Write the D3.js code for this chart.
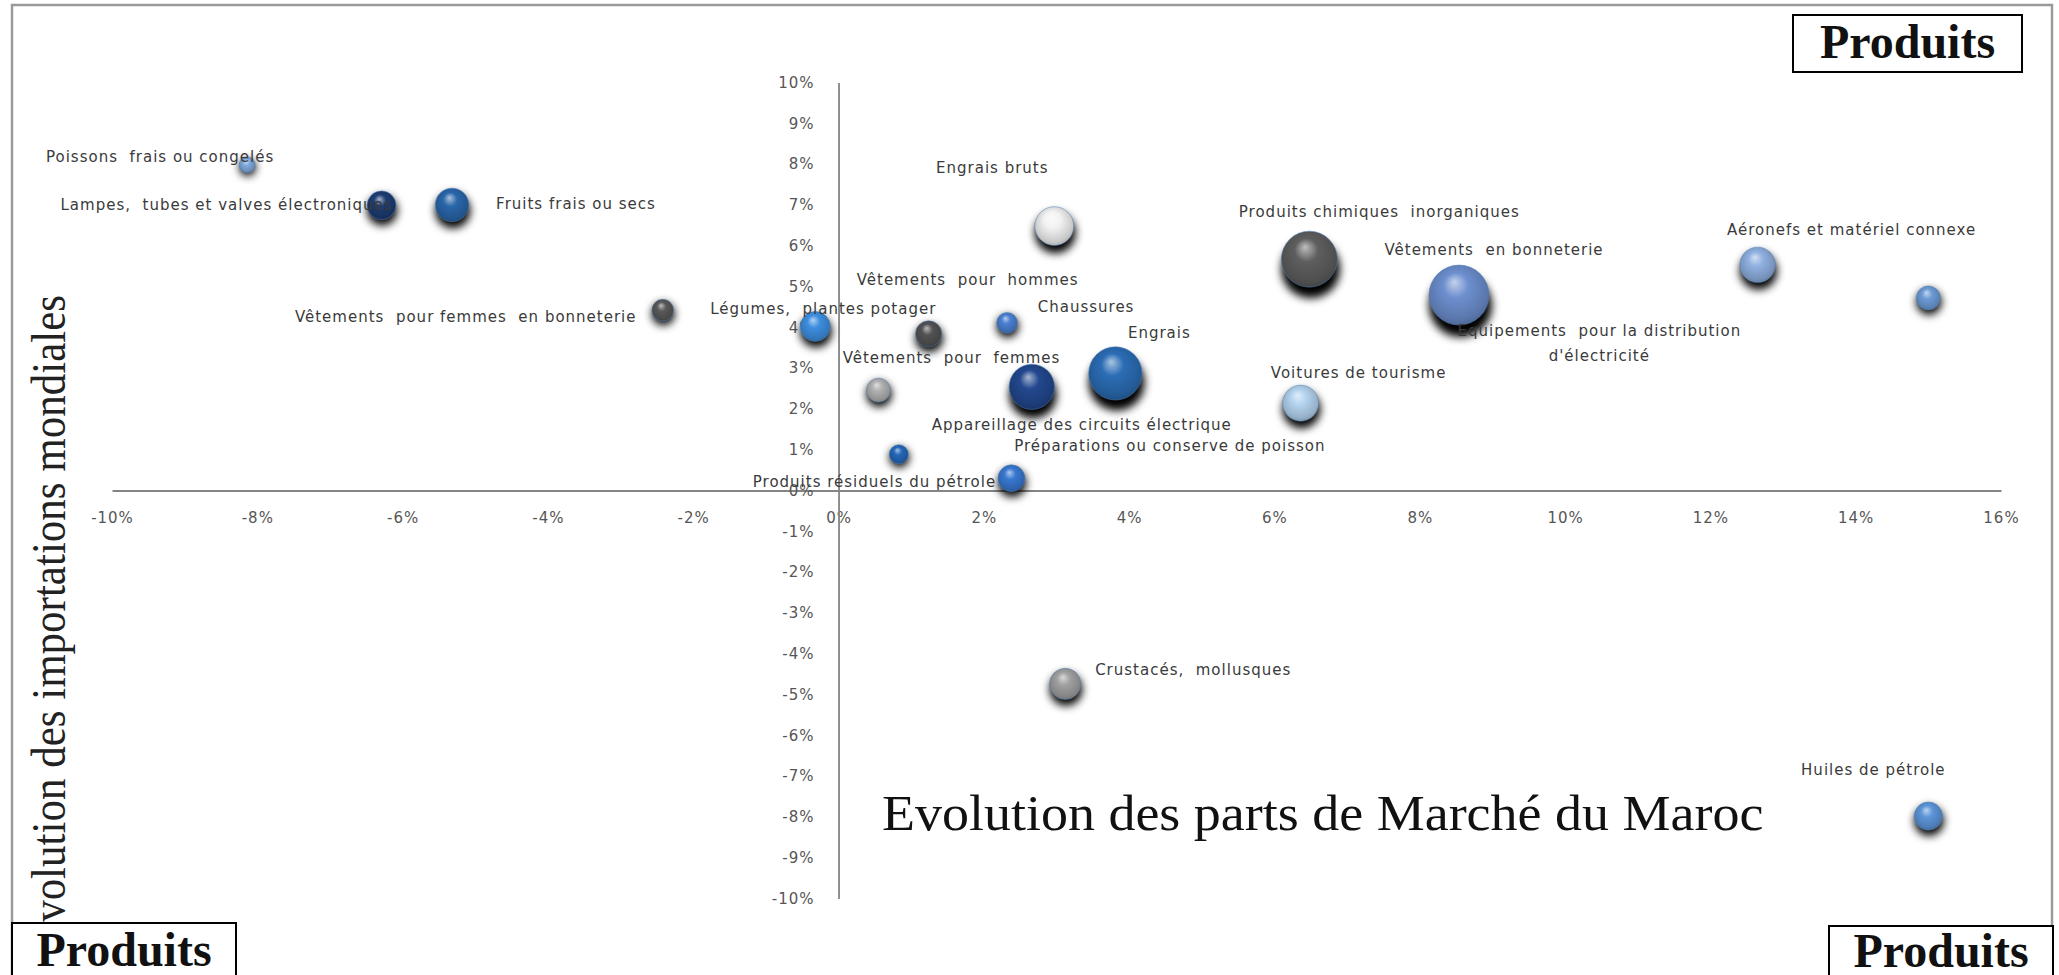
<!DOCTYPE html>
<html>
<head>
<meta charset="utf-8">
<script src="https://cdn.jsdelivr.net/npm/d3@7"></script>
<style>
body { margin: 0; background: #fff; }
svg { display: block; }
.lbl { font-family: "DejaVu Sans", sans-serif; font-size: 15px; fill: #3a3a3a; letter-spacing: 1px; white-space: pre; }
.axis text { font-family: "DejaVu Sans", sans-serif; font-size: 15px; fill: #565656; letter-spacing: 1px; }
.axis path { stroke: #858585; stroke-width: 1.8; }
.serif { font-family: "Liberation Serif", "Times New Roman", serif; fill: #111; }
</style>
</head>
<body>
<div id="chart"></div>
<script>
// produits et valeurs (en %)
var produits = [
    "Poissons  frais ou congelés",
    "Lampes,  tubes et valves électroniques",
    "Fruits frais ou secs",
    "Vêtements  pour femmes  en bonneterie",
    "Légumes,  plantes potager",
    "Vêtements  pour  hommes",
    "Chaussures",
    "Engrais bruts",
    "Vêtements  pour  femmes",
    "Appareillage des circuits électrique",
    "Engrais",
    "Préparations ou conserve de poisson",
    "Produits résiduels du pétrole",
    "Produits chimiques  inorganiques",
    "Vêtements  en bonneterie",
    "Aéronefs et matériel connexe",
    "Equipements  pour la distribution\nd'électricité",
    "Voitures de tourisme",
    "Crustacés,  mollusques",
    "Huiles de pétrole"
];
var partsMarche = [-8.14, -6.29, -5.32, -2.42, -0.32, 1.24, 2.32, 2.97, 0.55, 2.66,
                   3.81, 0.83, 2.38, 6.48, 8.54, 12.65, 15.0, 6.36, 3.12, 15.0];
var importsMondiales = [7.98, 6.99, 7.0, 4.42, 4.02, 3.84, 4.11, 6.48, 2.46, 2.54,
                        2.87, 0.89, 0.3, 5.67, 4.79, 5.53, 4.72, 2.14, -4.74, -7.98];
var tailles = [7, 23, 31, 13, 25, 19, 12, 42, 16, 57,
               79, 10, 20, 87, 100, 35, 16, 36, 27, 22];
var xTicks = [-10, -8, -6, -4, -2, 0, 2, 4, 6, 8, 10, 12, 14, 16];
var yTicks = [-10, -9, -8, -7, -6, -5, -4, -3, -2, -1, 0, 1, 2, 3, 4, 5, 6, 7, 8, 9, 10];

// style: couleur de chaque bulle
var couleurs = ["#7fa9dc", "#1d3c72", "#2a66aa", "#585858", "#3d8ee0", "#525252", "#4a7fd0", "#f2f2f2", "#b0b0b0", "#23488e",
                "#2b6db5", "#2467b8", "#3878d0", "#5e5e5e", "#6d8fcf", "#8fb0e0", "#6d9bd6", "#b4d3ef", "#a0a0a0", "#5c95d8"];
// placement des étiquettes (décalage en px depuis le centre de la bulle)
var decalages = [[-87, -8], [-155, -1], [124, -1], [-197, 7], [8, -18], [39, -54], [79, -16], [-62, -58], [73, -32], [50, 38],
                 [44, -41], [271, -8], [-137, 3], [70, -47], [35, -45], [94, -35], [-329, 33], [58, -30], [128, -14], [-55, -46]];

var width = 2059, height = 975;

var svg = d3.select("#chart").append("svg")
    .attr("width", width)
    .attr("height", height);

var defs = svg.append("defs");
defs.append("filter").attr("id", "ombre")
    .attr("x", "-50%").attr("y", "-50%").attr("width", "200%").attr("height", "200%")
    .append("feGaussianBlur").attr("stdDeviation", 4);

var x = d3.scaleLinear().domain([-10, 16]).range([112, 2001]);
var y = d3.scaleLinear().domain([-10, 10]).range([898.5, 82.5]);
var r = d3.scaleSqrt().domain([0, 100]).range([0, 30]);

var data = produits.map(function(p, i){
    return {nom: p, x: partsMarche[i], y: importsMondiales[i], s: tailles[i], c: couleurs[i], d: decalages[i], i: i};
});

// cadre
svg.append("rect")
    .attr("x", 12).attr("y", 5)
    .attr("width", 2040).attr("height", 1000)
    .attr("fill", "none").attr("stroke", "#9a9a9a").attr("stroke-width", 2.5);

var fmt = function(d){ return (d < 0 ? "-" : "") + Math.abs(d) + "%"; };

var xAxis = d3.axisBottom(x).tickValues(xTicks).tickFormat(fmt).tickSize(0).tickPadding(22);
var yAxis = d3.axisLeft(y).tickValues(yTicks).tickFormat(fmt).tickSize(0).tickPadding(24);

svg.append("g")
    .attr("class", "axis")
    .attr("transform", "translate(0," + y(0) + ")")
    .call(xAxis);

svg.append("g")
    .attr("class", "axis")
    .attr("transform", "translate(" + x(0) + ",0)")
    .call(yAxis);

svg.selectAll(".axis .domain").attr("stroke", "#858585");

// titres
svg.append("text")
    .attr("class", "serif")
    .attr("transform", "translate(882,830) scale(1.08,1)")
    .style("font-size", "50px")
    .text("Evolution des parts de Marché du Maroc");

svg.append("text")
    .attr("class", "serif")
    .attr("transform", "translate(65,295) rotate(-90) scale(1,1.12)")
    .attr("text-anchor", "end")
    .style("font-size", "43px")
    .style("fill", "#222")
    .text("Evolution des importations mondiales");

// bulles
data.forEach(function(d){
    var g = defs.append("radialGradient")
        .attr("id", "grad" + d.i)
        .attr("cx", "50%").attr("cy", "45%").attr("r", "60%")
        .attr("fx", "42%").attr("fy", "28%");
    var base = d3.color(d.c);
    g.append("stop").attr("offset", "0%").attr("stop-color", d3.interpolateRgb(d.c, "#fff")(0.6));
    g.append("stop").attr("offset", "35%").attr("stop-color", d.c);
    g.append("stop").attr("offset", "80%").attr("stop-color", base.darker(0.5));
    g.append("stop").attr("offset", "100%").attr("stop-color", base.darker(1.1));
});

svg.append("g").selectAll("circle")
    .data(data)
    .enter()
    .append("circle")
    .attr("cx", function(d){ return x(d.x) + r(d.s) * 0.05; })
    .attr("cy", function(d){ return y(d.y) + r(d.s) * 0.35; })
    .attr("r", function(d){ return r(d.s) * 1.05; })
    .attr("fill", "#000")
    .attr("filter", "url(#ombre)");

svg.append("g").selectAll("circle")
    .data(data)
    .enter()
    .append("circle")
    .attr("cx", function(d){ return x(d.x); })
    .attr("cy", function(d){ return y(d.y); })
    .attr("r", function(d){ return r(d.s); })
    .attr("fill", function(d){ return "url(#grad" + d.i + ")"; })
    .attr("stroke", "#4f81bd")
    .attr("stroke-opacity", 0.5)
    .attr("stroke-width", 1);

// étiquettes
var lbl = svg.append("g").selectAll("text")
    .data(data)
    .enter()
    .append("text")
    .attr("class", "lbl")
    .attr("text-anchor", "middle")
    .attr("x", function(d){ return x(d.x) + d.d[0]; })
    .attr("y", function(d){ return y(d.y) + d.d[1]; });

lbl.each(function(d){
    var lignes = d.nom.split("\n");
    var t = d3.select(this);
    lignes.forEach(function(l, k){
        t.append("tspan")
            .attr("x", x(d.x) + d.d[0])
            .attr("dy", k == 0 ? "0.35em" : "25px")
            .text(l);
    });
});

// encadrés "Produits"
var boites = [[1793, 15, 229, 57, 58], [12, 923, 224, 80, 966], [1829, 926, 224, 80, 967]];
boites.forEach(function(b){
    svg.append("rect")
        .attr("x", b[0]).attr("y", b[1])
        .attr("width", b[2]).attr("height", b[3])
        .attr("fill", "#fff").attr("stroke", "#000").attr("stroke-width", 2);
    svg.append("text")
        .attr("class", "serif")
        .attr("x", b[0] + b[2] / 2).attr("y", b[4])
        .attr("text-anchor", "middle")
        .style("font-size", "48px").style("font-weight", "bold")
        .text("Produits");
});
</script>
</body>
</html>
